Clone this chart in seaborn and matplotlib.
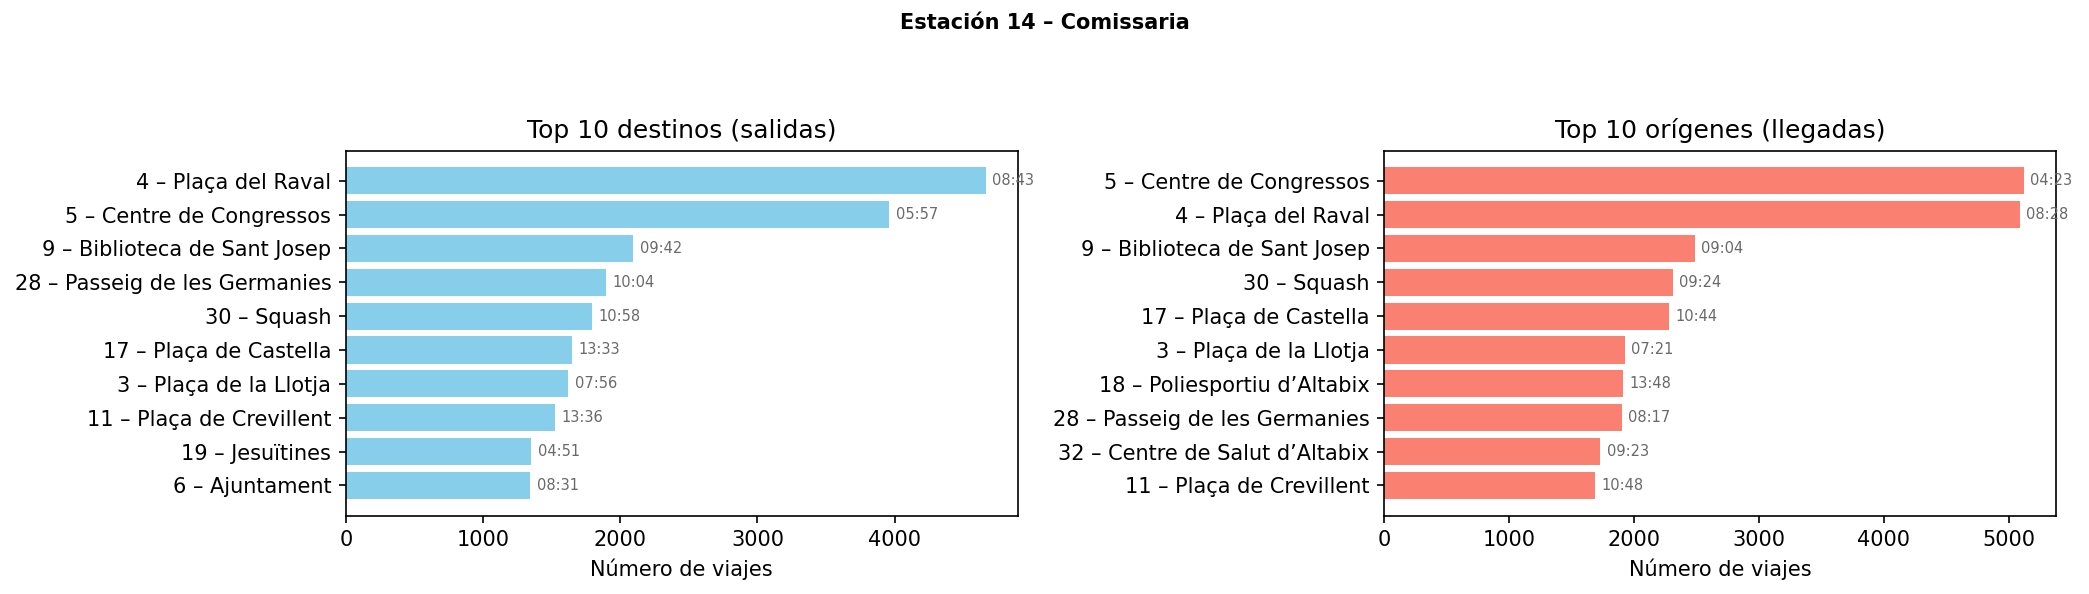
import pandas as pd
import seaborn as sns
import matplotlib.pyplot as plt

# Top 10 destinations (departures from station 14)
dest_names = ["4 – Plaça del Raval", "5 – Centre de Congressos", "9 – Biblioteca de Sant Josep",
              "28 – Passeig de les Germanies", "30 – Squash", "17 – Plaça de Castella",
              "3 – Plaça de la Llotja", "11 – Plaça de Crevillent", "19 – Jesuïtines", "6 – Ajuntament"]
dest_trips = [4663, 3961, 2095, 1897, 1796, 1650, 1621, 1526, 1351, 1344]
dest_time = ["08:43", "05:57", "09:42", "10:04", "10:58", "13:33", "07:56", "13:36", "04:51", "08:31"]

# Top 10 origins (arrivals to station 14)
orig_names = ["5 – Centre de Congressos", "4 – Plaça del Raval", "9 – Biblioteca de Sant Josep",
              "30 – Squash", "17 – Plaça de Castella", "3 – Plaça de la Llotja",
              "18 – Poliesportiu d’Altabix", "28 – Passeig de les Germanies",
              "32 – Centre de Salut d’Altabix", "11 – Plaça de Crevillent"]
orig_trips = [5122, 5090, 2487, 2310, 2278, 1928, 1913, 1903, 1729, 1690]
orig_time = ["04:23", "08:28", "09:04", "09:24", "10:44", "07:21", "13:48", "08:17", "09:23", "10:48"]

fig, axes = plt.subplots(1, 2, figsize=(2089 / 150, 594 / 150), dpi=150)
fig.subplots_adjust(left=0.1656, right=0.9842, bottom=0.132, top=0.7466, wspace=0.546)

panels = [
    (axes[0], dest_names, dest_trips, dest_time, "skyblue", "Top 10 destinos (salidas)"),
    (axes[1], orig_names, orig_trips, orig_time, "salmon", "Top 10 orígenes (llegadas)"),
]

for ax, names, trips, times, color, title in panels:
    df = pd.DataFrame({"estacion": names, "viajes": trips})
    sns.barplot(data=df, y="estacion", x="viajes", color=color, saturation=1, width=0.8, ax=ax)
    n = len(names)
    ax.set_ylim(n - 1 + 0.4 + 0.49, -0.4 - 0.49)
    ax.set_xlim(0, max(trips) * 1.05)
    for i, (v, t) in enumerate(zip(trips, times)):
        ax.annotate(t, (v, i), xytext=(3, 0), textcoords="offset points",
                    va="center", ha="left", fontsize=7, color="dimgray")
    ax.set_title(title, fontsize=12)
    ax.set_xlabel("Número de viajes")
    ax.set_ylabel("")

fig.suptitle("Estación 14 – Comissaria", fontsize=10, fontweight="bold", y=0.961, va="center")
plt.savefig("out.png", dpi=150)
